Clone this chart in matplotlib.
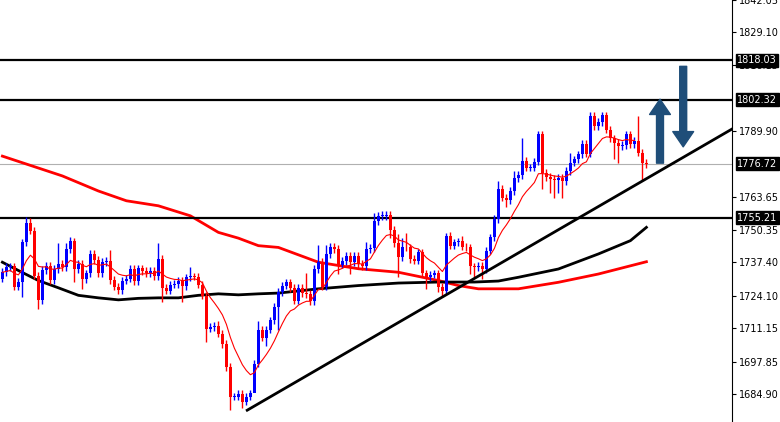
import matplotlib
matplotlib.use("Agg")
import matplotlib.pyplot as plt
import numpy as np
import pandas as pd

closes = [1733.5,1735.5,1735.8,1727.8,1729.8,1745.4,1753.0,1750.1,1732.2,1722.5,
1734.4,1736.1,1730.5,1734.8,1736.8,1735.5,1742.8,1745.8,1734.8,1736.8,
1730.9,1733.1,1740.8,1738.4,1733.1,1737.5,1737.9,1730.5,1727.8,1726.5,
1730.2,1731.0,1734.7,1730.0,1735.0,1733.9,1733.1,1734.2,1732.1,1738.8,
1727.3,1726.2,1728.6,1728.9,1730.2,1728.1,1731.5,1731.9,1731.8,1728.6,
1724.2,1711.0,1711.6,1712.0,1709.0,1705.0,1695.8,1683.9,1683.9,1685.0,
1681.9,1683.9,1685.2,1697.1,1710.6,1707.4,1710.6,1714.3,1719.6,1725.6,
1728.2,1729.5,1727.3,1722.2,1727.3,1725.2,1724.9,1722.0,1734.8,1737.5,
1727.8,1740.8,1743.7,1742.8,1736.5,1737.9,1740.1,1737.5,1740.1,1736.8,
1736.1,1742.8,1743.2,1753.8,1756.0,1756.0,1756.4,1750.3,1745.0,1739.5,
1743.7,1743.4,1738.8,1738.1,1741.4,1733.1,1731.5,1732.6,1733.1,1727.8,
1726.2,1748.0,1744.1,1745.4,1745.8,1743.7,1743.4,1735.8,1735.5,1736.1,
1734.8,1742.1,1747.4,1754.7,1766.6,1763.3,1762.2,1766.0,1771.0,1772.3,
1777.9,1775.2,1775.2,1777.6,1788.5,1773.2,1771.5,1770.6,1770.2,1771.0,
1769.9,1773.9,1777.2,1778.5,1780.5,1784.7,1780.8,1795.7,1791.8,1793.5,
1796.1,1790.4,1786.9,1785.1,1783.8,1784.2,1788.5,1784.5,1786.0,1781.2,
1777.2,1776.72]
first_open = 1731.0
wick = 1.5
extreme_highs = {6:1755.5,7:1755.1,14:1745.0,16:1745.0,17:1747.5,27:1742.4,39:1745.0,47:1735.5,
                 54:1714.0,64:1714.0,76:1733.1,79:1744.5,81:1744.5,82:1745.0,91:1745.4,93:1757.0,
                 95:1758.0,99:1748.7,100:1747.0,101:1749.0,111:1749.0,115:1748.0,124:1770.0,
                 128:1774.0,130:1787.0,134:1790.0,142:1781.0,147:1797.5,150:1797.5,151:1797.5,159:1795.7}
extreme_lows = {5:1723.6,9:1719.0,10:1721.0,18:1729.5,20:1727.0,40:1721.6,45:1721.6,51:1705.7,
                57:1678.5,60:1679.5,63:1693.0,66:1704.0,69:1710.3,84:1733.0,87:1733.0,97:1747.0,
                99:1731.5,106:1727.0,109:1725.5,110:1723.6,117:1733.0,118:1731.5,120:1731.0,
                126:1759.5,135:1766.6,137:1765.0,138:1763.3,139:1765.0,140:1763.3,153:1778.5,
                154:1777.0,160:1770.2}

black_ma_idx = [0,4,9,14,19,24,29,34,39,44,49,54,59,64,69,79,89,99,109,118,124,129,139,149,157,161]
black_ma_val = [1737.5,1734.2,1730.2,1727.3,1724.3,1723.3,1722.5,1723.1,1723.3,1723.3,1724.3,1724.9,
                1724.5,1724.9,1725.2,1726.9,1728.2,1729.2,1729.6,1729.6,1730.0,1731.5,1734.8,1740.8,1746.1,1751.4]
red_ma_idx = [0,15,24,31,39,47,54,59,64,69,79,89,99,109,114,119,129,139,149,161]
red_ma_val = [1779.8,1771.9,1765.9,1762.0,1760.0,1756.0,1749.4,1747.1,1744.1,1743.4,1737.5,1734.9,
              1733.5,1730.2,1728.2,1726.9,1726.9,1729.5,1732.8,1737.7]

levels = [1818.03, 1802.32, 1755.21]
current = 1776.72
tick_vals = [1842.05,1829.10,1816.15,1789.90,1763.65,1750.35,1737.40,1724.10,1711.15,1697.85,1684.90]
trend_x = [61.2, 182.4]
trend_y = [1678.5, 1790.6]

n = len(closes)
opens = [first_open] + closes[:-1]
highs, lows = [], []
for i in range(n):
    highs.append(extreme_highs.get(i, max(opens[i], closes[i]) + wick))
    lows.append(extreme_lows.get(i, min(opens[i], closes[i]) - wick))

fig = plt.figure(figsize=(7.8, 4.22), dpi=100)
ax = fig.add_axes([0, 0, 732/780, 1])
x = np.arange(n)
cols = ['#0000ff' if c >= o else '#ff0000' for o, c in zip(opens, closes)]
ax.vlines(x, lows, highs, colors=cols, lw=1, zorder=3)
bot = np.minimum(opens, closes)
hgt = np.maximum(np.abs(np.array(closes) - np.array(opens)), 0.3)
ax.bar(x, hgt, bottom=bot, width=0.75, color=cols, zorder=3, linewidth=0)

ax.plot(red_ma_idx, red_ma_val, color='#ff0000', lw=2, zorder=2)
ax.plot(black_ma_idx, black_ma_val, color='black', lw=2, zorder=2)
ema = pd.Series(closes).ewm(span=10, adjust=False).mean()
ax.plot(x[:159], ema[:159], color='#ff0000', lw=0.8, zorder=4)

for lv in levels:
    ax.axhline(lv, color='black', lw=1.6, zorder=2)
ax.axhline(current, color='#b0b0b0', lw=0.8, zorder=1)
ax.plot(trend_x, trend_y, color='black', lw=2, zorder=5)

ax.annotate('', xy=(164.4, 1802.5), xytext=(164.4, 1777),
            arrowprops=dict(facecolor='#1f4e79', edgecolor='#1f4e79', width=5, headwidth=15, headlength=11))
ax.annotate('', xy=(170.2, 1783.5), xytext=(170.2, 1815.6),
            arrowprops=dict(facecolor='#1f4e79', edgecolor='#1f4e79', width=5, headwidth=15, headlength=11))

ax.set_xlim(-0.6, 182.4)
ax.set_ylim(1673.8, 1841.4)
ax.set_xticks([])
ax.yaxis.tick_right()
ax.set_yticks(tick_vals)
ax.set_yticklabels([f"{v:.2f}" for v in tick_vals], fontsize=7)
ax.tick_params(axis='y', length=3, pad=2)
for s in ['top', 'left', 'bottom']:
    ax.spines[s].set_visible(False)
for lv in levels + [current]:
    ax.text(1.007, lv, f"{lv:.2f}", transform=ax.get_yaxis_transform(), fontsize=7,
            color='white', va='center', ha='left',
            bbox=dict(boxstyle='square,pad=0.15', fc='black', ec='black'), zorder=10)

fig.savefig('out.png', dpi=100)
